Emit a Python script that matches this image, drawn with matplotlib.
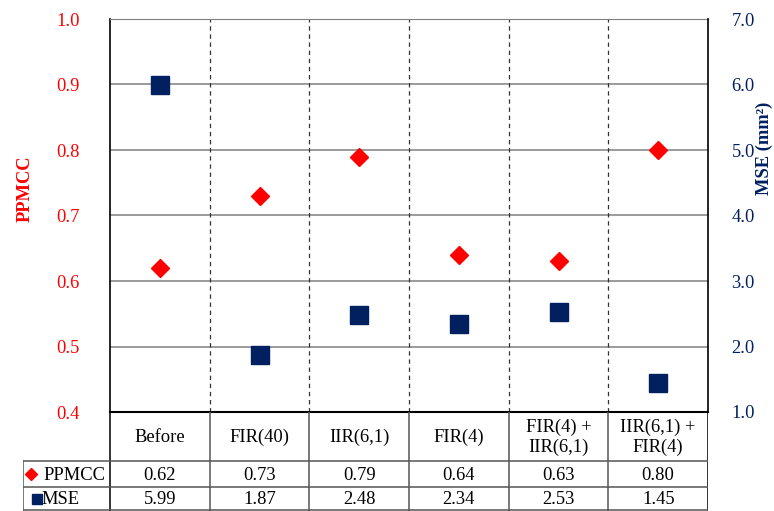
import matplotlib
matplotlib.use("Agg")
import matplotlib.pyplot as plt
from matplotlib.ticker import FormatStrFormatter, MultipleLocator

# data
categories = ["Before", "FIR(40)", "IIR(6,1)", "FIR(4)", "FIR(4) +\nIIR(6,1)", "IIR(6,1) +\nFIR(4)"]
ppmcc = [0.62, 0.73, 0.79, 0.64, 0.63, 0.80]
mse = [5.99, 1.87, 2.48, 2.34, 2.53, 1.45]
ppmcc_labels = ["0.62", "0.73", "0.79", "0.64", "0.63", "0.80"]
mse_labels = ["5.99", "1.87", "2.48", "2.34", "2.53", "1.45"]

RED = "#FF0000"
NAVY = "#002060"
FS = 13.3
plt.rcParams["font.family"] = ["Liberation Serif", "DejaVu Serif"]

W, H = 774, 511
fig = plt.figure(figsize=(W / 100, H / 100), dpi=100)

# plot area in pixels
L, R, T, B = 110, 708, 19, 412
ax = fig.add_axes([L / W, 1 - B / H, (R - L) / W, (B - T) / H])
n = len(categories)
xs = list(range(n))
ax.set_xlim(-0.5, n - 0.5)
ax.set_ylim(0.4, 1.0)
ax.yaxis.set_major_locator(MultipleLocator(0.1))
ax.yaxis.set_major_formatter(FormatStrFormatter("%.1f"))
ax.set_xticks([])
ax.tick_params(axis="y", length=0, pad=22, labelsize=FS, labelcolor=RED)
ax.grid(axis="y", color="#808080", lw=1.1)
for x in range(n - 1):
    ax.axvline(x + 0.5, color="#333333", lw=0.9, ls=(0, (3.5, 3)), zorder=1)
ax.spines["top"].set_color("#808080")
ax.spines["left"].set_color("black")
ax.spines["bottom"].set_linewidth(1.5)
ax.spines["left"].set_linewidth(1.2)
ax.spines["right"].set_visible(False)
ax.set_axisbelow(True)
ax.plot(xs, ppmcc, ls="none", marker="D", ms=9.5, color=RED, zorder=3, clip_on=False)

ax2 = ax.twinx()
ax2.set_ylim(1.0, 7.0)
ax2.yaxis.set_major_locator(MultipleLocator(1.0))
ax2.yaxis.set_major_formatter(FormatStrFormatter("%.1f"))
ax2.tick_params(axis="y", length=0, pad=17, labelsize=FS, labelcolor=NAVY)
ax2.spines["right"].set_color("black")
ax2.spines["right"].set_linewidth(1.2)
for s in ["top", "left", "bottom"]:
    ax2.spines[s].set_visible(False)
ax2.plot(xs, mse, ls="none", marker="s", ms=13, color=NAVY, zorder=3, clip_on=False)

fig.text(25 / W, 1 - 189 / H, "PPMCC", rotation=90, color=RED, fontsize=FS,
         fontweight="bold", ha="center", va="center")
fig.text(764 / W, 1 - 148 / H, "MSE (mm²)", rotation=90, color=NAVY, fontsize=FS,
         fontweight="bold", ha="center", va="center")

# data table underneath
TL = 23
px = (R - L) / n
x0 = -0.5 - (L - TL) / px
tab = fig.add_axes([TL / W, 0, (R - TL) / W, (H - B) / H])
tab.set_xlim(x0, n - 0.5)
tab.set_ylim(H, B)
tab.axis("off")
r1, r2, r3 = 461, 487, 510
lc = "#555555"
for x in range(n + 1):
    tab.plot([x - 0.5, x - 0.5], [B, H], color=lc if 0 < x < n else "black", lw=1.1)
tab.plot([x0, x0], [r1, H], color=lc, lw=1.1)
for y in [r1, r2, r3]:
    tab.plot([x0, n - 0.5], [y, y], color=lc, lw=1.1)

for x, c in zip(xs, categories):
    tab.text(x, (B + r1) / 2 + 1, c, ha="center", va="center", fontsize=FS, linespacing=1.2)
for x, v in zip(xs, ppmcc_labels):
    tab.text(x, (r1 + r2) / 2 + 1, v, ha="center", va="center", fontsize=FS)
for x, v in zip(xs, mse_labels):
    tab.text(x, (r2 + r3) / 2 + 1, v, ha="center", va="center", fontsize=FS)

mx = x0 + (31 - TL) / px
tab.plot([mx], [(r1 + r2) / 2], marker="D", ms=6, color=RED, ls="none")
tab.plot([x0 + (36.5 - TL) / px], [(r2 + r3) / 2], marker="s", ms=7, color=NAVY, ls="none")
tab.text(x0 + (43 - TL) / px, (r1 + r2) / 2 + 1, "PPMCC", ha="left", va="center", fontsize=FS)
tab.text(x0 + (41 - TL) / px, (r2 + r3) / 2 + 1, "MSE", ha="left", va="center", fontsize=FS)

fig.savefig("out.png", dpi=100)
